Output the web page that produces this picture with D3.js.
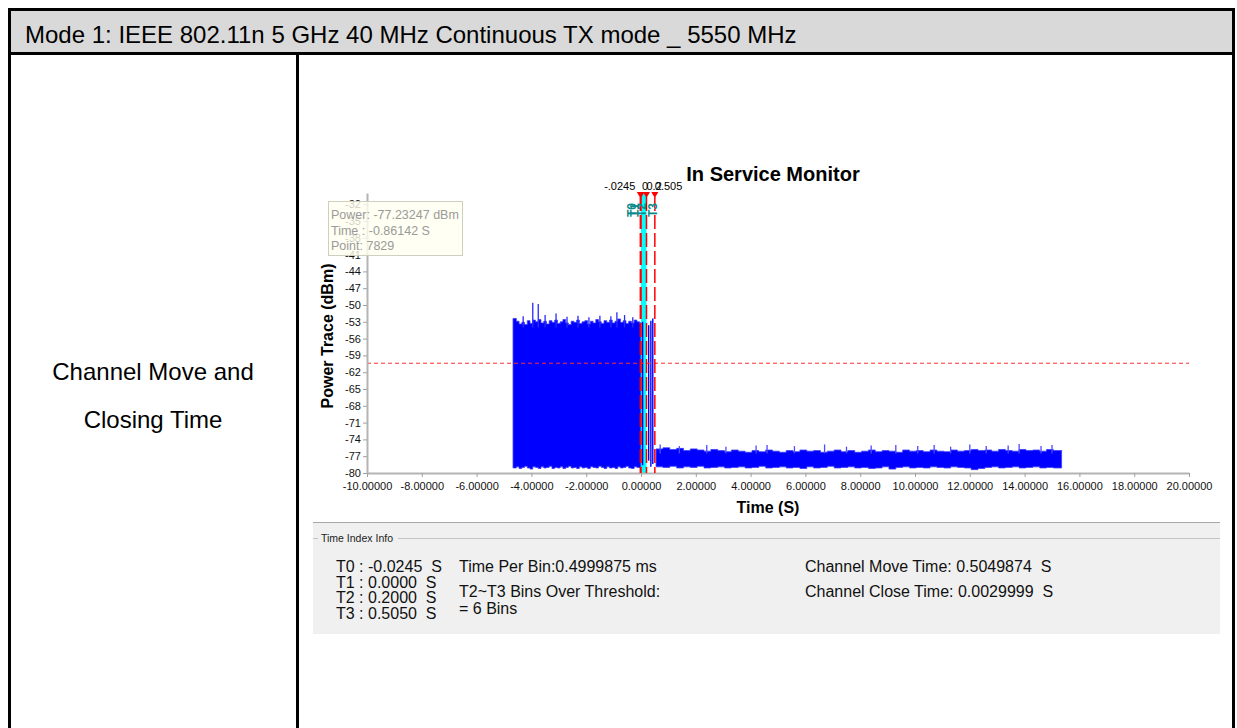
<!DOCTYPE html>
<html lang="en">
<head>
<meta charset="UTF-8">
<title>In Service Monitor</title>
<script src="https://d3js.org/d3.v7.min.js"></script>
<style>
  body { margin: 0; background: #fff; }
  text { font-family: 'Liberation Sans', Arial, sans-serif; }
</style>
</head>
<body>
<script>
const width = 1237;
const height = 728;

// table texts
const headerText = "Mode 1: IEEE 802.11n 5 GHz 40 MHz Continuous TX mode _ 5550 MHz";
const rowLabel = ["Channel Move and", "Closing Time"];

// axes
const xTicks = d3.range(-10, 20.1, 2);
const yTicks = d3.range(-80, -31, 3);
const threshold = -60.4;

// time markers T0..T3 (s)
const markerNames = ["T0", "T1", "T2", "T3"];
const markerTimes = [-0.0245, 0, 0.2, 0.505];
const markerLabels = ["-.0245", "0", "0.2", "0.505"];

// burst before the channel move: envelope (time s, top dBm, bottom dBm)
const aTime = [-4.67, -4.55, -4.45, -4.35, -4.25, -4.15, -4.05, -3.95, -3.85, -3.75, -3.65, -3.55,
  -3.45, -3.35, -3.25, -3.15, -3.05, -2.95, -2.85, -2.75, -2.65, -2.55, -2.45, -2.35, -2.25, -2.15,
  -2.05, -1.95, -1.85, -1.75, -1.65, -1.55, -1.45, -1.35, -1.25, -1.15, -1.05, -0.95, -0.85, -0.75,
  -0.65, -0.55, -0.45, -0.35, -0.25, -0.15, -0.05, -0.01];
const aTop = [-52.4, -52.9, -53.4, -53.1, -53.5, -52.8, -53.3, -52.7, -53.0, -52.6, -53.2, -52.9,
  -53.4, -52.8, -53.1, -52.7, -53.3, -53.0, -52.6, -53.2, -53.5, -52.9, -53.1, -52.7, -53.3, -53.0,
  -52.8, -53.4, -52.9, -53.2, -52.6, -53.0, -53.3, -52.8, -53.1, -52.7, -53.2, -52.9, -52.5, -53.1,
  -52.8, -53.3, -52.9, -53.2, -52.7, -53.0, -53.3, -53.1];
const aBottom = [-79.1, -78.9, -79.2, -79.0, -78.8, -79.1, -79.3, -78.9, -79.0, -79.2, -78.9, -79.1,
  -79.0, -78.8, -79.2, -79.0, -79.1, -78.9, -79.2, -79.0, -78.8, -79.1, -79.0, -79.2, -78.9, -79.1,
  -79.0, -79.2, -78.9, -79.0, -79.1, -78.8, -79.0, -79.2, -78.9, -79.1, -79.0, -79.2, -78.9, -79.1,
  -79.0, -78.8, -79.1, -79.2, -78.9, -79.0, -79.1, -79.0];
const aSpikeTime = [-4.3, -3.95, -3.75, -3.5, -3.1, -2.7, -2.3, -1.9, -1.5, -1.1, -0.88, -0.6, -0.3];
const aSpikePeak = [-52.0, -49.6, -49.8, -51.8, -51.5, -52.1, -51.9, -52.2, -51.9, -52.0, -51.3, -51.8, -52.2];

// few packets between T1 and T3
const midTime = [0.06, 0.28, 0.36, 0.43];
const midTop = [-53.0, -53.6, -52.8, -52.4];
const midBottom = [-78.6, -77.8, -78.9, -78.4];

// residual noise after the move
const bTime = [0.55, 0.8, 1.05, 1.3, 1.55, 1.8, 2.05, 2.3, 2.55, 2.8, 3.05, 3.3, 3.55, 3.8, 4.05, 4.3,
  4.55, 4.8, 5.05, 5.3, 5.55, 5.8, 6.05, 6.3, 6.55, 6.8, 7.05, 7.3, 7.55, 7.8, 8.05, 8.3, 8.55, 8.8,
  9.05, 9.3, 9.55, 9.8, 10.05, 10.3, 10.55, 10.8, 11.05, 11.3, 11.55, 11.8, 12.05, 12.3, 12.55, 12.8,
  13.05, 13.3, 13.55, 13.8, 14.05, 14.3, 14.55, 14.8, 15.05, 15.35];
const bTop = [-75.7, -75.5, -75.8, -75.6, -76.0, -75.7, -75.9, -76.1, -75.8, -76.0, -76.2, -75.9,
  -76.1, -76.3, -76.0, -76.2, -75.9, -76.1, -76.3, -76.0, -76.2, -75.9, -76.1, -76.0, -76.3, -76.1,
  -75.9, -76.2, -76.0, -76.3, -76.1, -75.9, -76.2, -76.0, -76.1, -76.3, -75.9, -76.1, -76.0, -76.2,
  -75.9, -76.1, -76.2, -75.9, -76.1, -76.0, -75.8, -76.0, -75.9, -76.1, -75.8, -76.0, -76.1, -75.8,
  -76.0, -75.9, -76.1, -75.8, -76.0, -75.9];
const bBottom = [-78.9, -79.0, -78.8, -79.1, -78.9, -79.0, -78.8, -79.1, -79.0, -78.9, -79.1, -79.0,
  -78.9, -79.1, -79.0, -78.8, -79.1, -79.0, -78.9, -79.1, -79.0, -79.2, -78.9, -79.1, -79.0, -78.8,
  -79.1, -79.0, -78.9, -79.1, -79.0, -79.2, -79.1, -78.9, -79.3, -79.0, -78.9, -79.1, -79.0, -79.1,
  -78.9, -79.0, -79.1, -78.9, -79.0, -79.1, -79.4, -79.2, -79.0, -78.9, -79.1, -79.0, -78.9, -79.1,
  -79.0, -78.9, -79.1, -79.0, -79.1, -79.0];
const bSpikeTime = [0.7, 1.4, 2.4, 3.1, 4.2, 4.6, 5.6, 6.7, 7.5, 8.4, 9.3, 10.1, 10.7, 11.3, 12.0,
  12.6, 13.4, 13.8, 14.6, 15.0];
const bSpikePeak = [-74.9, -75.2, -75.0, -75.3, -75.1, -75.0, -75.2, -74.9, -75.3, -75.1, -75.0,
  -75.2, -75.0, -75.3, -74.9, -75.2, -75.1, -74.8, -75.2, -75.0];

// hover tooltip and info panel
const tooltipLines = ["Power: -77.23247 dBm", "Time : -0.86142 S", "Point: 7829"];
const tLines = ["T0 : -0.0245  S", "T1 : 0.0000  S", "T2 : 0.2000  S", "T3 : 0.5050  S"];
const binLines = ["Time Per Bin:0.4999875 ms", "T2~T3 Bins Over Threshold:", "= 6 Bins"];
const channelLines = ["Channel Move Time: 0.5049874  S", "Channel Close Time: 0.0029999  S"];

const keepSpaces = s => s.replace(/  /g, " \u00a0");

const svg = d3.select("body").append("svg")
    .attr("width", width).attr("height", height);

// ---- table ----
svg.append("rect").attr("x", 10).attr("y", 10).attr("width", 1223).attr("height", 43)
    .attr("fill", "#d9d9d9");
svg.append("path")
    .attr("d", "M9.5,740 V9.5 H1233.5 V740 M9.5,53.5 H1233.5 M297.5,53.5 V740")
    .attr("fill", "none").attr("stroke", "#000").attr("stroke-width", 3);
svg.append("text").attr("x", 25).attr("y", 43)
    .attr("font-size", 24).attr("fill", "#000").text(headerText);
svg.selectAll(".rowlabel").data(rowLabel).enter().append("text")
    .attr("class", "rowlabel")
    .attr("x", 153).attr("y", (d, i) => 380 + i * 48)
    .attr("text-anchor", "middle").attr("font-size", 24).text(d => d);

// ---- chart ----
const x = d3.scaleLinear().domain([-10, 20]).range([367, 1189]);
const y = d3.scaleLinear().domain([-80, -30]).range([473, 193]);
const hyphen = f => d => f(d).replace("\u2212", "-");

svg.append("text").attr("x", 773).attr("y", 181).attr("text-anchor", "middle")
    .attr("font-size", 20).attr("font-weight", "bold").text("In Service Monitor");
svg.append("text").attr("x", 768).attr("y", 513).attr("text-anchor", "middle")
    .attr("font-size", 16).attr("font-weight", "bold").text("Time (S)");
svg.append("text").attr("transform", "translate(333,336) rotate(-90)")
    .attr("text-anchor", "middle")
    .attr("font-size", 16).attr("font-weight", "bold").text("Power Trace (dBm)");

// cyan band T1..T2
svg.append("rect")
    .attr("x", x(markerTimes[1])).attr("y", y(-30))
    .attr("width", x(markerTimes[2]) - x(markerTimes[1]))
    .attr("height", y(-80) - y(-30))
    .attr("fill", "#00ffff");

// signal
const area = d3.area().curve(d3.curveStepAfter)
    .x(d => x(d.t)).y0(d => y(d.lo)).y1(d => y(d.hi));
const blockA = aTime.map((t, i) => ({ t, hi: aTop[i], lo: aBottom[i] }));
const blockB = bTime.map((t, i) => ({ t, hi: bTop[i], lo: bBottom[i] }));
[blockA, blockB].forEach(b => {
  svg.append("path").attr("d", area(b)).attr("fill", "#0000ff")
      .attr("stroke", "#3b3bff").attr("stroke-width", 0.8);
});
svg.selectAll(".aspike").data(aSpikeTime).enter().append("line")
    .attr("x1", d => x(d)).attr("x2", d => x(d))
    .attr("y1", y(-54)).attr("y2", (d, i) => y(aSpikePeak[i]))
    .attr("stroke", "#2a2aff").attr("stroke-width", 1.3);
svg.selectAll(".bspike").data(bSpikeTime).enter().append("line")
    .attr("x1", d => x(d)).attr("x2", d => x(d))
    .attr("y1", y(-76.5)).attr("y2", (d, i) => y(bSpikePeak[i]))
    .attr("stroke", "#4a4aff").attr("stroke-width", 1.3);
svg.selectAll(".mid").data(midTime).enter().append("line")
    .attr("x1", d => x(d)).attr("x2", d => x(d))
    .attr("y1", (d, i) => y(midBottom[i])).attr("y2", (d, i) => y(midTop[i]))
    .attr("stroke", "#0000ff").attr("stroke-width", 1.4);

// threshold
svg.append("line")
    .attr("x1", x(-10)).attr("x2", x(20)).attr("y1", y(threshold)).attr("y2", y(threshold))
    .attr("stroke", "#ff3030").attr("stroke-dasharray", "4,3").attr("stroke-width", 1);

// axes
const xAxis = svg.append("g").attr("transform", `translate(0,${y(-80)})`)
    .call(d3.axisBottom(x).tickValues(xTicks).tickSize(4).tickSizeOuter(0)
      .tickFormat(hyphen(d3.format(".5f"))));
const yAxis = svg.append("g").attr("transform", `translate(${x(-10)},0)`)
    .call(d3.axisLeft(y).tickValues(yTicks).tickSize(4).tickSizeOuter(0)
      .tickFormat(hyphen(d3.format("d"))));
[xAxis, yAxis].forEach(a => {
  a.select(".domain").attr("stroke", "#b4b4b4").attr("stroke-width", 2);
  a.selectAll(".tick line").attr("stroke", "#a0a0a0");
  a.selectAll(".tick text").attr("font-size", 11).attr("fill", "#111")
      .attr("font-family", "'Liberation Sans', Arial, sans-serif");
});
xAxis.selectAll(".tick text").attr("dy", "0.95em");
yAxis.selectAll(".tick text").attr("x", -6);

// time markers
const mk = svg.append("g");
mk.selectAll(".mline").data(markerTimes).enter().append("line")
    .attr("x1", d => x(d)).attr("x2", d => x(d))
    .attr("y1", y(-30) + 4).attr("y2", y(-80))
    .attr("stroke", "#ff0000").attr("stroke-width", 1.5)
    .attr("stroke-dasharray", "14,4");
mk.selectAll(".mtri").data(markerTimes).enter().append("path")
    .attr("d", d => `M${x(d) - 3.5},${y(-30) - 1} h7 l-3.5,6 z`)
    .attr("fill", "#ff0000");
mk.selectAll(".mlab").data(markerTimes).enter().append("text")
    .attr("x", (d, i) => i === 0 ? x(d) - 5 : x(d) + (i === 1 ? 1 : 0))
    .attr("y", y(-30) - 3)
    .attr("text-anchor", (d, i) => i === 0 ? "end" : "start")
    .attr("font-size", 11).attr("fill", "#000")
    .text((d, i) => markerLabels[i]);
mk.selectAll(".mname").data(markerTimes).enter().append("text")
    .attr("transform", (d, i) => `translate(${x(d) - 4 + i * 2},${y(-30) + 24}) rotate(-90)`)
    .attr("font-size", 12).attr("font-weight", "bold").attr("fill", "#0a8a8a")
    .text((d, i) => markerNames[i]);

// tooltip
svg.append("rect").attr("x", 328.5).attr("y", 201.5).attr("width", 134).attr("height", 54)
    .attr("fill", "#fffff0").attr("fill-opacity", 0.8)
    .attr("stroke", "#cfcfbf");
svg.selectAll(".tip").data(tooltipLines).enter().append("text")
    .attr("x", 331).attr("y", (d, i) => 219 + i * 15.5)
    .attr("font-size", 12.5).attr("fill", "#9a9a9a").text(d => d);

// ---- info panel ----
svg.append("rect").attr("x", 313).attr("y", 522).attr("width", 907).attr("height", 112)
    .attr("fill", "#f0f0f0");
svg.append("line").attr("x1", 313).attr("x2", 1220).attr("y1", 522.5).attr("y2", 522.5)
    .attr("stroke", "#a8a8a8");
svg.append("path").attr("d", "M313,538.5 H318 M398,538.5 H1220")
    .attr("stroke", "#c4c4c4").attr("fill", "none");
svg.append("text").attr("x", 321).attr("y", 542).attr("font-size", 10.5)
    .attr("fill", "#222").text("Time Index Info");

const info = svg.append("g").attr("font-size", 16).attr("fill", "#111");
info.selectAll(".tl").data(tLines).enter().append("text")
    .attr("x", 336).attr("y", (d, i) => 572 + i * 15.5).text(d => keepSpaces(d));
info.selectAll(".bl").data(binLines).enter().append("text")
    .attr("x", 459).attr("y", (d, i) => [572, 597, 614][i]).text(d => d);
info.selectAll(".cl").data(channelLines).enter().append("text")
    .attr("x", 805).attr("y", (d, i) => 572 + i * 25).text(d => keepSpaces(d));
</script>
</body>
</html>
